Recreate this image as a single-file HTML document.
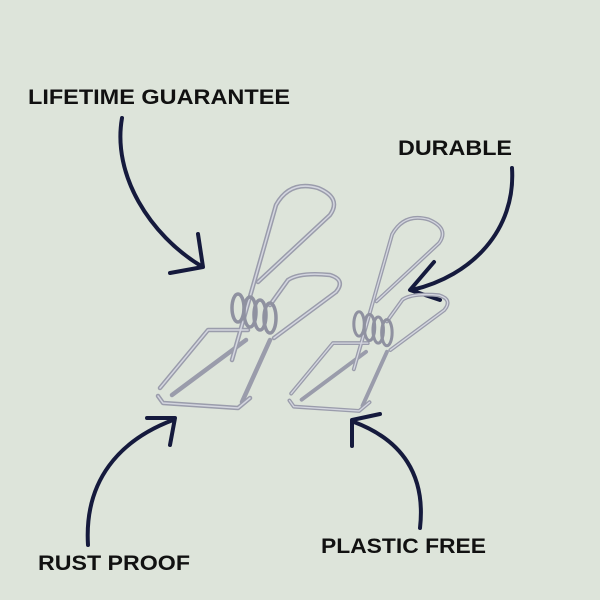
<!DOCTYPE html>
<html><head><style>
html,body{margin:0;padding:0;background:#dde4da;}
svg{display:block;}
text{font-family:"Liberation Sans",sans-serif;font-weight:bold;fill:#111;}
</style></head><body>
<svg width="600" height="600" viewBox="0 0 600 600" xmlns="http://www.w3.org/2000/svg">
<rect width="600" height="600" fill="#dde4da"/>
<text x="28" y="104" font-size="21" textLength="262" lengthAdjust="spacingAndGlyphs">LIFETIME GUARANTEE</text>
<text x="398" y="155" font-size="21" textLength="114" lengthAdjust="spacingAndGlyphs">DURABLE</text>
<text x="38" y="570" font-size="21" textLength="152" lengthAdjust="spacingAndGlyphs">RUST PROOF</text>
<text x="321" y="553" font-size="21" textLength="165" lengthAdjust="spacingAndGlyphs">PLASTIC FREE</text>
<g fill="none" stroke="#151a3d" stroke-width="4" stroke-linecap="round" stroke-linejoin="round">
<path d="M122,118 C112,175 150,235 201,266"/>
<path d="M198,234 L203,267 L170,273"/>
<path d="M512,168 C516,230 472,276 412,290"/>
<path d="M434,262 L410,290 L440,300"/>
<path d="M88,545 C84,480 120,440 173,420"/>
<path d="M147,418 L175,418 L170,445"/>
<path d="M420,528 C426,475 402,440 354,422"/>
<path d="M352,446 L352,420 L380,414"/>
</g>
<defs>
<g id="clip" fill="none" stroke-linecap="round" stroke-linejoin="round">
<g stroke="#9a9cab" stroke-width="4.5">
<path d="M160,388 L208,330 L248,330"/>
<path d="M158,396 L163,403 L238,408 L250,398"/>
<path d="M246,340 L172,395"/>
<path d="M270,340 L242,402"/>
<path d="M270,305 L288,280 Q300,272 330,275 Q346,280 336,292 L274,338"/>
<path d="M232,360 L276,205 Q290,180 318,188 Q342,198 330,215 L258,282"/>
</g>
<g stroke="#d4d6e0" stroke-width="1.5">
<path d="M160,388 L208,330 L248,330"/>
<path d="M158,396 L163,403 L238,408 L250,398"/>
<path d="M232,360 L276,205 Q290,180 318,188 Q342,198 330,215 L258,282"/>
<path d="M270,305 L288,280 Q300,272 330,275 Q346,280 336,292 L274,338"/>
</g>
<g stroke="#8f91a0" stroke-width="3.5">
<ellipse cx="238" cy="308" rx="6" ry="14"/>
<ellipse cx="250" cy="312" rx="6" ry="15"/>
<ellipse cx="260" cy="315" rx="6" ry="15"/>
<ellipse cx="270" cy="318" rx="6" ry="15"/>
</g>
</g>
</defs>
<use href="#clip"/>
<use href="#clip" transform="translate(152,56) scale(0.87) translate(0,0)"/>
</svg>
</body></html>
